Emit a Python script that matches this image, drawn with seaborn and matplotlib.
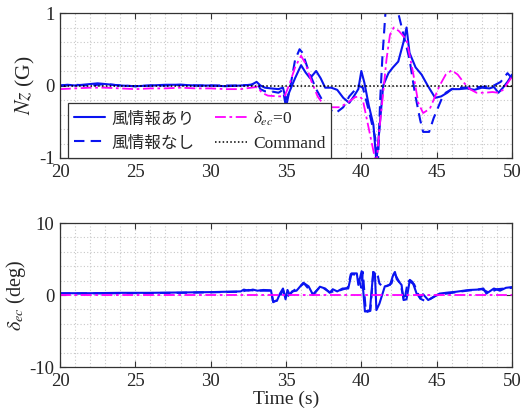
import matplotlib
matplotlib.use("Agg")
import matplotlib.pyplot as plt
import seaborn as sns
from matplotlib.ticker import MultipleLocator

# Nz response (G) - wind info used (solid)
nz_wind_t = [20, 20.5, 21, 21.5, 22, 22.5, 23, 23.5, 24, 25, 26, 27, 28, 29, 30, 31, 32,
             32.7, 33.05, 33.3, 33.6, 34.0, 34.5, 34.8, 35.0, 35.3, 35.6, 36.0, 36.3, 36.6,
             37.0, 37.3, 37.6, 38.0, 38.4, 38.8, 39.2, 39.5, 39.8, 40.0, 40.2, 40.5, 40.8,
             41.0, 41.2, 41.45, 41.8, 42.1, 42.45, 42.8, 43.0, 43.2, 43.6, 44.0, 44.4, 44.9,
             45.3, 45.7, 46.0, 46.5, 47.0, 47.5, 48.0, 48.5, 48.8, 49.1, 49.4, 49.7, 50.0]
nz_wind = [0.0, 0.01, 0.0, 0.01, 0.02, 0.03, 0.02, 0.01, 0.0, -0.01, 0.0, 0.01, 0.01, 0.0, 0.0, -0.01, 0.0,
           0.01, 0.05, 0.0, -0.03, -0.04, -0.05, -0.03, -0.2, -0.05, 0.1, 0.28, 0.18, 0.1,
           0.2, 0.1, -0.03, -0.03, -0.06, -0.17, -0.24, -0.15, -0.05, 0.2, 0.04, -0.28, -0.54,
           -1.05, -0.6, 0.0, 0.17, 0.25, 0.33, 0.6, 0.8, 0.45, 0.25, 0.15, 0.0, -0.17,
           -0.15, -0.1, -0.05, -0.05, -0.04, -0.06, -0.03, -0.04, -0.02, -0.1, -0.03, 0.05, 0.15]

# Nz - no wind info (dashed)
nz_nowind_t = [20, 21, 22, 23, 24, 25, 26, 27, 28, 29, 30, 31, 32, 32.7, 33.1, 33.3, 33.6, 34.0,
               34.5, 34.8, 35.0, 35.3, 35.6, 35.9, 36.1, 36.5, 37.0, 37.4, 37.8, 38.3, 38.8,
               39.2, 39.5, 39.8, 40.1, 40.5, 40.9, 41.1, 41.25, 41.4, 41.6, 41.9, 42.2, 42.45,
               42.8, 43.2, 43.55, 43.9, 44.1, 44.5, 44.8, 45.3, 45.6, 46.0, 46.5, 47.0, 47.5,
               48.0, 48.5, 48.8, 49.25, 49.7, 50.0]
nz_nowind = [0.0, 0.01, 0.0, 0.02, 0.0, -0.01, 0.0, 0.0, 0.01, 0.0, 0.0, 0.0, 0.0, 0.01, 0.03, -0.05, -0.08, -0.08,
             -0.1, -0.06, -0.3, 0.0, 0.35, 0.5, 0.45, 0.2, -0.05, -0.2, -0.32, -0.38, -0.3,
             -0.15, -0.08, 0.0, -0.03, -0.35, -0.7, -1.1, -0.2, 0.4, 1.0, 1.3, 1.25, 1.0,
             0.7, 0.36, -0.1, -0.47, -0.64, -0.64, -0.45, -0.2, -0.1, -0.05, -0.03, -0.03, -0.02,
             -0.02, -0.01, 0.0, 0.05, 0.17, 0.1]

# Nz - delta_ec = 0 (dash-dot magenta)
nz_zero_t = [20, 21, 22, 23, 24, 25, 26, 27, 28, 29, 30, 31, 32, 32.7, 33.1, 33.4, 33.8, 34.5,
             34.9, 35.2, 35.6, 36.0, 36.3, 36.7, 37.1, 37.5, 37.9, 38.6, 39.2, 39.6, 39.9,
             40.1, 40.35, 40.7, 41.0, 41.2, 41.45, 41.67, 41.9, 42.15, 42.5, 43.0, 43.44,
             43.78, 44.1, 44.55, 45.2, 45.6, 46.0, 46.4, 46.8, 47.2, 47.65, 48.2, 48.7, 49.1,
             49.4, 49.7, 50.0]
nz_zero = [-0.05, -0.04, -0.03, -0.03, -0.04, -0.05, -0.04, -0.04, -0.03, -0.04, -0.04, -0.05, -0.05, -0.03, -0.02, -0.1, -0.14, -0.15,
           -0.15, 0.0, 0.25, 0.41, 0.3, 0.05, -0.15, -0.27, -0.3, -0.3, -0.22, -0.16, -0.15,
           -0.2, -0.45, -0.8, -1.1, -0.6, -0.1, 0.36, 0.7, 0.8, 0.75, 0.63, 0.17,
           -0.24, -0.38, -0.32, 0.0, 0.15, 0.21, 0.15, 0.04, -0.05, -0.1, -0.1, -0.09, -0.1,
           -0.06, 0.03, 0.12]

cmd_t = [20, 50]
cmd = [0, 0]

# elevator command delta_ec (deg)
de_wind_t = [20, 22, 24, 26, 28, 30, 32, 32.2, 32.5, 32.8, 33.1, 33.5, 34.0, 34.15, 34.4, 34.6,
             34.8, 34.97, 35.1, 35.25, 35.4, 35.7, 36.15, 36.5, 36.8, 37.25, 37.6, 37.9, 38.1,
             38.4, 38.75, 39.13, 39.35, 39.7, 39.8, 40.02, 40.24, 40.57, 40.79, 40.9, 41.0,
             41.2, 41.56, 41.9, 42.12, 42.23, 42.35, 42.67, 42.8, 43.0, 43.22, 43.4, 43.67,
             43.9, 44.1, 44.44, 45.2, 45.8, 46.3, 46.8, 47.2, 47.7, 48.1, 48.3, 48.8, 49.2,
             49.6, 50.0]
de_wind = [0.25, 0.25, 0.3, 0.3, 0.35, 0.4, 0.5, 0.75, 0.6, 0.75, 0.6, 0.7, 0.65, -0.9, -0.8, 0.2,
           0.9, -0.6, 0.7, 0.0, 0.5, 0.6, 1.7, 1.2, 0.0, 1.15, 0.9, 0.3, 0.8,
           0.5, 0.9, 0.9, 3.0, 3.0, 1.4, 3.3, -2.3, -2.1, 3.2, 3.0, -2.1,
           -1.2, 1.2, 1.4, 2.8, 3.2, 2.2, 1.4, -0.7, -0.6, 2.1, 1.8, 0.2,
           -0.4, 0.1, -0.7, 0.2, 0.35, 0.45, 0.6, 0.7, 0.75, 0.9, 0.2, 0.9, 0.6,
           1.0, 1.1]

de_nowind_t = [20, 24, 28, 32, 32.5, 33.0, 34.0, 34.15, 34.5, 34.8, 35.0, 35.5, 36.2, 36.8, 37.3,
               37.9, 38.5, 39.1, 39.3, 39.75, 40.0, 40.1, 40.3, 40.6, 40.8, 41.1, 41.2, 41.5,
               42.0, 42.2, 42.6, 42.85, 43.1, 43.5, 43.9, 44.3, 45.0, 46.0, 47.0, 48.0, 48.5,
               49.0, 49.5, 50.0]
de_nowind = [0.2, 0.25, 0.3, 0.45, 0.7, 0.6, 0.6, -1.0, -0.6, 0.7, -0.4, 0.6, 1.6, 0.1, 1.2,
             0.4, 0.6, 1.0, 2.9, 2.8, 1.0, 3.2, -2.4, -2.2, 3.3, 2.6, 1.6, 1.0,
             1.6, 3.0, 1.5, -0.8, 2.0, 1.5, -0.5, -0.9, 0.0, 0.3, 0.6, 0.8, 0.3,
             0.8, 0.9, 1.0]

de_zero_t = [20, 50]
de_zero = [0, 0]

sns.set_style("ticks")
plt.rcParams['font.family'] = ['Liberation Serif', 'Noto Sans CJK JP']
plt.rcParams['mathtext.fontset'] = 'stix'
plt.rcParams['axes.unicode_minus'] = False
plt.rcParams['font.size'] = 13

BLUE = '#0a14f0'
MAG = '#ff00ff'

fig = plt.figure(figsize=(5.23, 4.17), dpi=100)
W, H = 523, 417
ax1 = fig.add_axes([60 / W, 1 - 158 / H, 452 / W, 145 / H])
ax2 = fig.add_axes([60 / W, 1 - 367 / H, 452 / W, 144 / H])

kw = dict(estimator=None, sort=False)
sns.lineplot(x=nz_wind_t, y=nz_wind, ax=ax1, color=BLUE, lw=1.5, label='風情報あり', **kw)
sns.lineplot(x=nz_nowind_t, y=nz_nowind, ax=ax1, color=BLUE, lw=1.5,
             linestyle=(0, (5, 3)), label='風情報なし', **kw)
sns.lineplot(x=nz_zero_t, y=nz_zero, ax=ax1, color=MAG, lw=1.3,
             linestyle=(0, (6, 2, 1.5, 2)), label=r'$\delta_{ec}$=0', **kw)
sns.lineplot(x=cmd_t, y=cmd, ax=ax1, color='black', lw=1.1, linestyle=(0, (1, 1.5)),
             label='Command', **kw)

sns.lineplot(x=de_wind_t, y=de_wind, ax=ax2, color=BLUE, lw=1.5, legend=False, **kw)
sns.lineplot(x=de_nowind_t, y=de_nowind, ax=ax2, color=BLUE, lw=1.5,
             linestyle=(0, (5, 3)), legend=False, **kw)
sns.lineplot(x=de_zero_t, y=de_zero, ax=ax2, color=MAG, lw=1.3,
             linestyle=(0, (6, 2, 1.5, 2)), legend=False, **kw)

for ax, yl, ymaj, ymin in [(ax1, (-1, 1), 1, 0.2), (ax2, (-10, 10), 10, 2)]:
    ax.set_xlim(20, 50)
    ax.set_ylim(*yl)
    ax.xaxis.set_major_locator(MultipleLocator(5))
    ax.xaxis.set_minor_locator(MultipleLocator(1))
    ax.yaxis.set_major_locator(MultipleLocator(ymaj))
    ax.yaxis.set_minor_locator(MultipleLocator(ymin))
    ax.grid(which='both', color='#c8c8c8', linestyle=(0, (1, 2)), lw=0.8)
    ax.tick_params(which='major', direction='in', length=4, top=True, right=True,
                   labelsize=13.5, pad=4, color='#333333')
    ax.tick_params(which='minor', length=0)
    for s in ax.spines.values():
        s.set_color('#333333')
        s.set_linewidth(0.9)
    ax.set_xlabel('')

ax1.set_ylabel('$Nz$ (G)', fontsize=15.5, labelpad=1)
ax2.set_ylabel(r'$\delta_{ec}$ (deg)', fontsize=14.5, labelpad=1)
ax2.set_xlabel('Time (s)', fontsize=14, labelpad=1)

leg = ax1.legend(loc='lower left', bbox_to_anchor=(0.018, 0.0), ncol=2, fontsize=12.5,
                 frameon=True, fancybox=False, framealpha=1, edgecolor='#333333',
                 handlelength=1.8, columnspacing=1.2, borderaxespad=0,
                 handletextpad=0.35, labelspacing=0.45, borderpad=0.35)
leg.get_frame().set_linewidth(0.9)
for txt in leg.get_texts()[:2]:
    txt.set_fontsize(12)

fig.savefig('out.png', dpi=100)
